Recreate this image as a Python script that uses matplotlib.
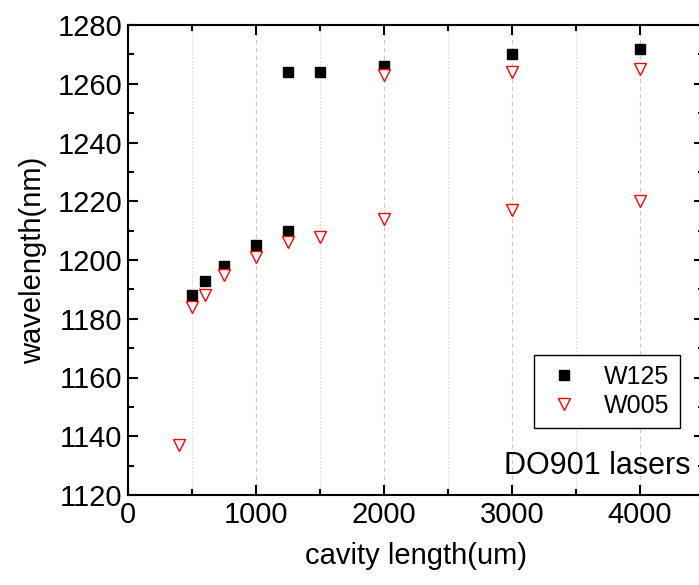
import matplotlib
matplotlib.use("Agg")
import matplotlib.pyplot as plt
from matplotlib.ticker import MultipleLocator

plt.rcParams['font.family'] = ['Liberation Sans', 'DejaVu Sans']

# W125 (filled black squares)
w125_x = [500, 600, 750, 1000, 1250, 1250, 1500, 2000, 3000, 4000]
w125_y = [1188, 1193, 1198, 1205, 1210, 1264, 1264, 1266, 1270, 1272]

# W005 (open red down-triangles)
w005_x = [400, 500, 600, 750, 1000, 1250, 1500, 2000, 3000, 4000, 2000, 3000, 4000]
w005_y = [1137, 1184, 1188, 1195, 1201, 1206, 1208, 1214, 1217, 1220, 1263, 1264, 1265]

fig = plt.figure(figsize=(6.99, 5.85), dpi=100)
ax = fig.add_axes([128 / 699, 90 / 585, 576 / 699, 470 / 585])

ax.plot(w125_x, w125_y, 's', color='black', markersize=7, linestyle='none', label='W125')
ax.plot(w005_x, w005_y, 'v', markerfacecolor='white', markeredgecolor='red',
        markeredgewidth=1.0, markersize=9, linestyle='none', label='W005')

ax.set_xlim(0, 4500)
ax.set_ylim(1120, 1280)
ax.xaxis.set_major_locator(MultipleLocator(1000))
ax.xaxis.set_minor_locator(MultipleLocator(500))
ax.yaxis.set_major_locator(MultipleLocator(20))
ax.yaxis.set_minor_locator(MultipleLocator(10))

# vertical grid only: dashed at major, dotted at minor
ax.grid(True, axis='x', which='major', color='#c8c8c8', linestyle=(0, (4, 3)), linewidth=0.8)
ax.grid(True, axis='x', which='minor', color='#c8c8c8', linestyle=(0, (1, 2)), linewidth=0.8)
ax.set_axisbelow(True)

ax.tick_params(which='both', direction='in', top=True, right=True, width=1.5)
ax.tick_params(which='major', length=7, labelsize=21, pad=4)
ax.tick_params(which='minor', length=4)
for s in ax.spines.values():
    s.set_linewidth(1.5)

ax.set_xlabel('cavity length(um)', fontsize=21, labelpad=10)
ax.set_ylabel('wavelength(nm)', fontsize=21, labelpad=8)

leg = ax.legend(loc='upper right', bbox_to_anchor=(0.958, 0.298), borderaxespad=0,
                fontsize=18, fancybox=False, edgecolor='black', framealpha=1,
                handlelength=1.6, handletextpad=0.8, borderpad=0.4, labelspacing=0.2)
leg.get_frame().set_linewidth(1.0)

ax.text(0.976, 0.045, 'DO901 lasers', transform=ax.transAxes, ha='right',
        va='baseline', fontsize=22)

fig.savefig('out.png', dpi=100)
